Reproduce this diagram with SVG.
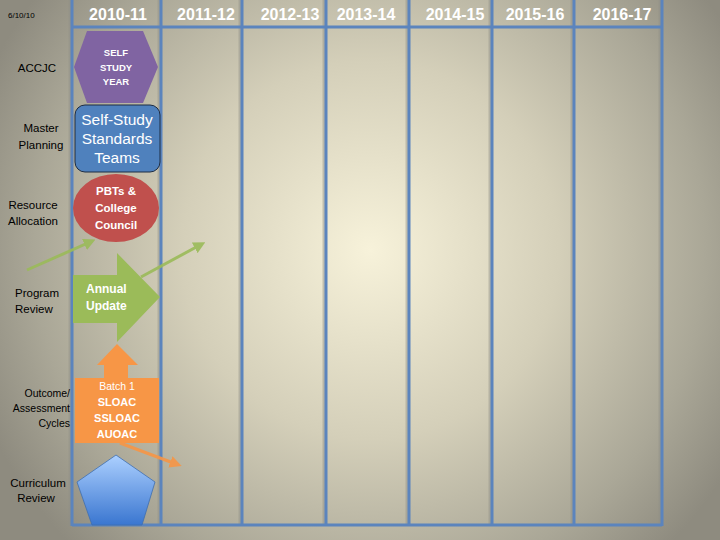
<svg xmlns="http://www.w3.org/2000/svg" width="720" height="540" viewBox="0 0 720 540">
<defs>
<radialGradient id="bg" cx="370" cy="250" r="420" gradientUnits="userSpaceOnUse">
<stop offset="0" stop-color="#f7f2da"/>
<stop offset="0.45" stop-color="#d4cfb9"/>
<stop offset="0.8" stop-color="#aaa797"/>
<stop offset="1" stop-color="#8e8b7f"/>
</radialGradient>
<linearGradient id="pent" x1="0" y1="0" x2="0" y2="1">
<stop offset="0" stop-color="#acd0ff"/>
<stop offset="1" stop-color="#3a76d0"/>
</linearGradient>
<marker id="ag" markerWidth="4" markerHeight="4" refX="2" refY="2" orient="auto" markerUnits="strokeWidth">
<path d="M0,0 L4,2 L0,4 z" fill="#9bbb59"/>
</marker>
<marker id="ao" markerWidth="4" markerHeight="4" refX="2" refY="2" orient="auto" markerUnits="strokeWidth">
<path d="M0,0 L4,2 L0,4 z" fill="#f79646"/>
</marker>
<style>
.grid{stroke:#5b84bd;stroke-width:3;fill:none}
.gsh{stroke:#8f8e88;stroke-width:3;opacity:0.45;fill:none}
.hdr{font-family:"Liberation Sans",Arial,sans-serif;font-weight:bold;font-size:16px;fill:#ffffff;text-anchor:middle}
.lbl{font-family:"Liberation Sans",Arial,sans-serif;font-size:11.5px;fill:#000000}
.wb{font-family:"Liberation Sans",Arial,sans-serif;font-weight:bold;fill:#ffffff;text-anchor:middle}
.wr{font-family:"Liberation Sans",Arial,sans-serif;fill:#ffffff;text-anchor:middle}
</style>
</defs>
<rect x="0" y="0" width="720" height="540" fill="url(#bg)"/>

<g id="grid">
<path class="gsh" d="M70,0 V526 M159,0 V526 M240,0 V526 M324,0 V526 M407,0 V526 M490,0 V526 M572,0 V526 M660,0 V526"/>
<path class="grid" d="M72,0 V526 M161,0 V526 M242,0 V526 M326,0 V526 M409,0 V526 M492,0 V526 M574,0 V526 M662,0 V526 M72,27 H662 M72,525 H662"/>
</g>

<g id="headers">
<text class="hdr" x="118" y="20">2010-11</text>
<text class="hdr" x="206" y="20">2011-12</text>
<text class="hdr" x="290" y="20">2012-13</text>
<text class="hdr" x="366" y="20">2013-14</text>
<text class="hdr" x="455" y="20">2014-15</text>
<text class="hdr" x="535" y="20">2015-16</text>
<text class="hdr" x="622" y="20">2016-17</text>
</g>

<g id="row-labels">
<text class="lbl" x="8" y="18" style="font-size:8px">6/10/10</text>
<text class="lbl" x="37" y="72" text-anchor="middle">ACCJC</text>
<text class="lbl" x="41" y="132" text-anchor="middle">Master</text>
<text class="lbl" x="41" y="149" text-anchor="middle">Planning</text>
<text class="lbl" x="33" y="209" text-anchor="middle">Resource</text>
<text class="lbl" x="33" y="225" text-anchor="middle">Allocation</text>
<text class="lbl" x="15" y="297">Program</text>
<text class="lbl" x="15" y="313">Review</text>
<text class="lbl" x="70" y="397" text-anchor="end" style="font-size:10.5px">Outcome/</text>
<text class="lbl" x="70" y="412" text-anchor="end" style="font-size:10.5px">Assessment</text>
<text class="lbl" x="70" y="427" text-anchor="end" style="font-size:10.5px">Cycles</text>
<text class="lbl" x="38" y="487" text-anchor="middle">Curriculum</text>
<text class="lbl" x="36" y="502" text-anchor="middle">Review</text>
</g>

<g id="connectors">
<line x1="27" y1="270" x2="90" y2="242" stroke="#9bbb59" stroke-width="3" opacity="0.9" marker-end="url(#ag)"/>
<line x1="141" y1="277" x2="200" y2="245" stroke="#9bbb59" stroke-width="3" opacity="0.9" marker-end="url(#ag)"/>
<line x1="120" y1="443" x2="176" y2="464" stroke="#f79646" stroke-width="3" opacity="0.9" marker-end="url(#ao)"/>
</g>

<g id="self-study-year">
<polygon points="87,31 143,31 158,67 143,103 87,103 74,67" fill="#8064a2"/>
<text class="wb" x="116" y="56" style="font-size:9.5px">SELF</text>
<text class="wb" x="116" y="71" style="font-size:9.5px">STUDY</text>
<text class="wb" x="116" y="85" style="font-size:9.5px">YEAR</text>
</g>

<g id="self-study-teams">
<rect x="75" y="105" width="85" height="67" rx="10" fill="#4f81bd" stroke="#1c2c44" stroke-width="1"/>
<text class="wr" x="117" y="125" style="font-size:15.5px">Self-Study</text>
<text class="wr" x="117" y="144" style="font-size:15.5px">Standards</text>
<text class="wr" x="117" y="163" style="font-size:15.5px">Teams</text>
</g>

<g id="pbts">
<ellipse cx="116" cy="208" rx="43" ry="34" fill="#c0504d"/>
<text class="wb" x="116" y="195" style="font-size:11.5px">PBTs &amp;</text>
<text class="wb" x="116" y="212" style="font-size:11.5px">College</text>
<text class="wb" x="116" y="229" style="font-size:11.5px">Council</text>
</g>

<g id="annual-update">
<polygon points="73,275 117,275 117,253 160,297 117,342 117,323 73,323" fill="#9bbb59"/>
<text class="wb" x="86" y="293" text-anchor="start" style="font-size:12px;text-anchor:start">Annual</text>
<text class="wb" x="86" y="310" style="font-size:12px;text-anchor:start">Update</text>
</g>

<g id="batch1">
<polygon points="117,344 138,365 128,365 128,378 159,378 159,443 75,443 75,378 104,378 104,365 97,365" fill="#f79646"/>
<text class="wr" x="117" y="390" style="font-size:10.5px">Batch 1</text>
<text class="wb" x="117" y="406" style="font-size:11px">SLOAC</text>
<text class="wb" x="117" y="422" style="font-size:11px">SSLOAC</text>
<text class="wb" x="117" y="438" style="font-size:11px">AUOAC</text>
</g>

<g id="curriculum">
<polygon points="116,455 155,482 142,525 92,525 77,482" fill="url(#pent)" stroke="#3f6fb0" stroke-width="0.8"/>
</g>
</svg>
